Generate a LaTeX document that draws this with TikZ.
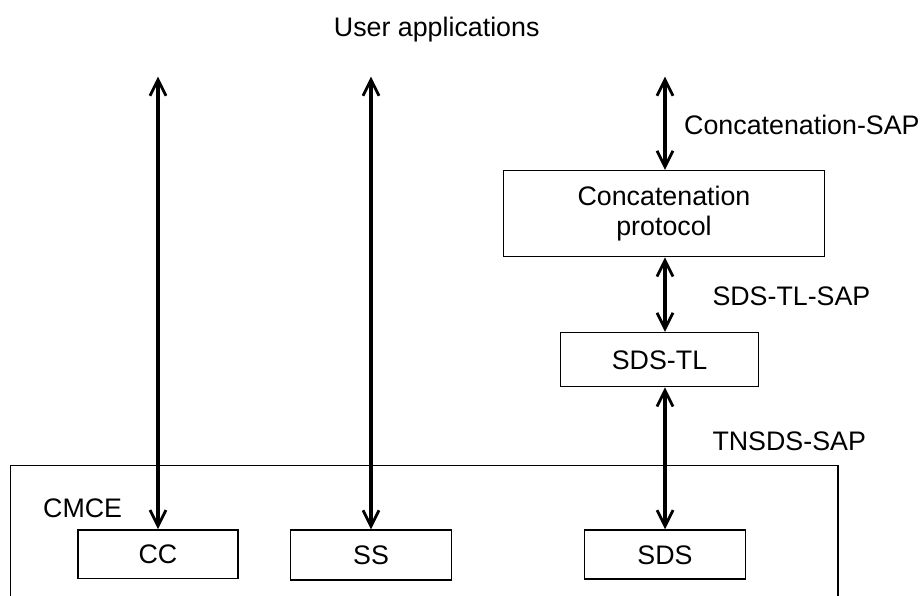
\documentclass[tikz,border=0pt]{standalone}
\usepackage{fontspec}
\setmainfont{Liberation Sans}
\usetikzlibrary{arrows.meta}
\begin{document}
\begin{tikzpicture}[x=1pt,y=-1pt,
  every node/.style={font=\fontsize{26.8}{30}\selectfont, inner sep=0pt},
  blk/.style={draw, line width=1.5pt, align=center, text height=19pt, text depth=-3pt},
  lbl/.style={anchor=base west},
  tip/.style={},
  arr/.style={line width=3.4pt, {Straight Barb[length=16pt,width=16pt,line width=2.8pt]}-{Straight Barb[length=16pt,width=16pt,line width=2.8pt]}}]
\useasboundingbox (0,0) rectangle (924,595);
% CMCE container (open at bottom)
\coordinate (cmbl) at (10.7,597);
\coordinate (cmtl) at (10.7,465.7);
\coordinate (cmtr) at (838,465.7);
\coordinate (cmbr) at (838,597);
\draw[line width=1.5pt] (cmbl) -- (cmtl) -- (cmtr) -- (cmbr);
\node[anchor=base west] (cmce) at (43,517.7) {CMCE};
% boxes
\node[blk, minimum width=160.4pt, minimum height=48.6pt] (cc) at (158,554.2) {CC};
\node[blk, minimum width=160.7pt, minimum height=49.7pt] (ss) at (371,555) {SS};
\node[blk, minimum width=161pt, minimum height=49pt] (sds) at (665,554.5) {SDS};
\node[draw, line width=1.5pt, align=center, minimum width=321pt, minimum height=86pt] (cp) at (664,213.7) {Concatenation\\protocol};
\node[blk, minimum width=197.6pt, minimum height=54pt] (tl) at (659.5,359.7) {SDS-TL};
% top coordinates
\coordinate (top) at (0,76.7);
% arrows
\draw[arr] (cc.north) -- (cc.north |- top);
\draw[arr] (ss.north) -- (ss.north |- top);
\draw[arr] (sds.north) -- (sds.north |- tl.south);
\draw[arr] (cp.south -| sds.north) -- (tl.north -| sds.north);
\draw[arr] (cp.north -| sds.north) -- (sds.north |- top);
% labels
\node[anchor=base] (ua) at (436.7,36) {User applications};
\node[lbl] (csap) at (684,134) {Concatenation-SAP};
\node[lbl] (tlsap) at (712.3,305) {SDS-TL-SAP};
\node[lbl] (tnsap) at (712.3,450) {TNSDS-SAP};
\end{tikzpicture}
\end{document}
